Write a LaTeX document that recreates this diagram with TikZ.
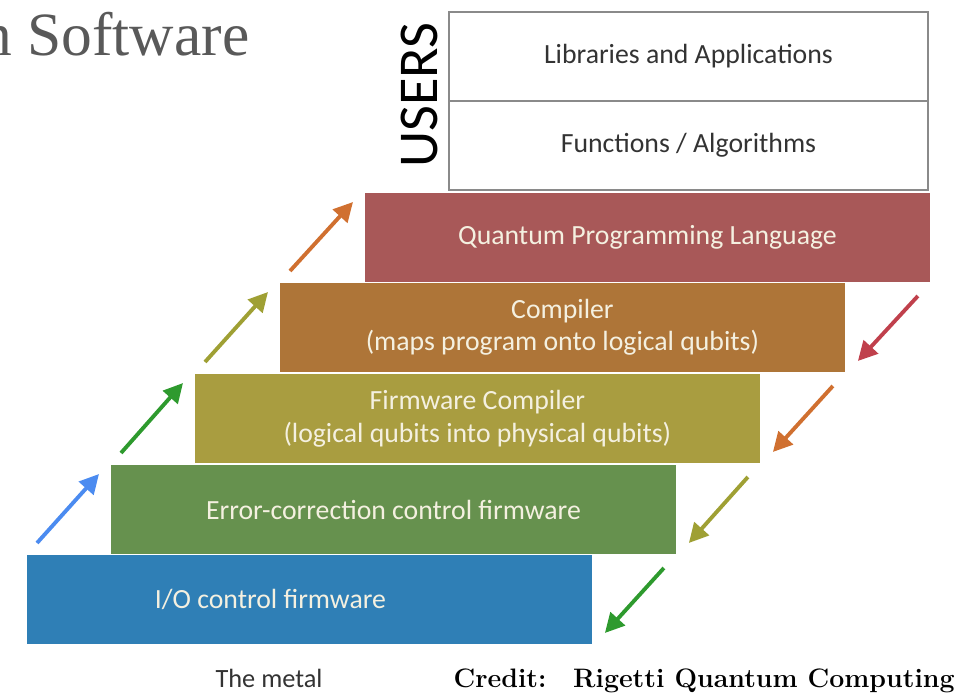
\documentclass[tikz,border=0pt]{standalone}
\usepackage{fontspec}
\usepackage{tikz}
\usetikzlibrary{arrows.meta,calc}
\newfontfamily\boxfont{Carlito}
\newfontfamily\titlefont{Liberation Serif}

\definecolor{qplred}{HTML}{A85858}
\definecolor{cpbrown}{HTML}{AE7538}
\definecolor{fwolive}{HTML}{A99D40}
\definecolor{ecgreen}{HTML}{66914E}
\definecolor{ioblue}{HTML}{2F7FB6}
\definecolor{boxtext}{HTML}{F4F0E0}
\definecolor{usergray}{HTML}{8A8A8A}
\definecolor{arrblue}{HTML}{4B8BF0}
\definecolor{arrgreen}{HTML}{2E9A2E}
\definecolor{arrolive}{HTML}{9FA034}
\definecolor{arrorange}{HTML}{D07030}
\definecolor{arrred}{HTML}{C0404C}

\begin{document}
\begin{tikzpicture}[x=0.02cm,y=-0.02cm,
  layer/.style={anchor=north west, minimum width=11.3cm, minimum height=1.78cm,
    inner sep=0pt, outer sep=0pt, align=center, text=boxtext,
    font=\boxfont\fontsize{15.8}{18.5}\selectfont},
  userbox/.style={layer, draw=usergray, line width=1.2pt, minimum width=9.58cm,
    text=black!80},
  stair/.style={line width=2.2pt, -{Triangle[length=11pt,width=11pt]}},
]
\useasboundingbox (0,0) rectangle (957,693);

%--- title and side label -----------------------------------------------
\node[anchor=base west, inner sep=0pt, text=black!65,
  font=\titlefont\fontsize{35}{40}\selectfont] (title) at (-19,55) {n Software};
\node[rotate=90, inner sep=0pt, text=black,
  font=\boxfont\fontsize{32}{36}\selectfont] (users) at (419,95) {USERS};

%--- user layers ----------------------------------------------------------
\node[userbox] (lib) at (449,12) {Libraries and Applications};
\node[userbox] (fun) at (449,101) {Functions / Algorithms};

%--- the stairs -----------------------------------------------------------
\node[layer, fill=qplred] (qpl) at (365,193) {Quantum Programming Language};
\node[layer, fill=cpbrown] (cp) at (280,283)
  {Compiler\\(maps program onto logical qubits)};
\node[layer, fill=fwolive] (fw) at (195,374)
  {Firmware Compiler\\(logical qubits into physical qubits)};
\node[layer, fill=ecgreen] (ec) at (111,465) {Error-correction control firmware};
\node[layer, fill=ioblue] (io) at (27,555) {I/O control firmware\hspace{1.56cm}};

%--- arrows up the left side, down the right side -------------------------
\foreach \a/\b/\c in {io/ec/arrblue, ec/fw/arrgreen, fw/cp/arrolive, cp/qpl/arrorange}{
  \draw[stair,\c] ($(\a.north west)+(10,-12)$) -- ($(\b.north west)+(-12,9)$);
}
\foreach \a/\b/\c in {qpl/cp/arrred, cp/fw/arrorange, fw/ec/arrolive, ec/io/arrgreen}{
  \draw[stair,\c] ($(\a.south east)+(-12,14)$) -- ($(\b.south east)+(13,-11)$);
}

%--- captions -------------------------------------------------------------
\node[text=black!80, font=\boxfont\fontsize{15}{18}\selectfont] (metal) at (269,678)
  {The metal};
\node[anchor=base east, inner sep=0pt, font=\bfseries\fontsize{15.2}{18}\selectfont]
  (credit) at (955,687) {Credit:\quad Rigetti Quantum Computing};

\end{tikzpicture}
\end{document}
